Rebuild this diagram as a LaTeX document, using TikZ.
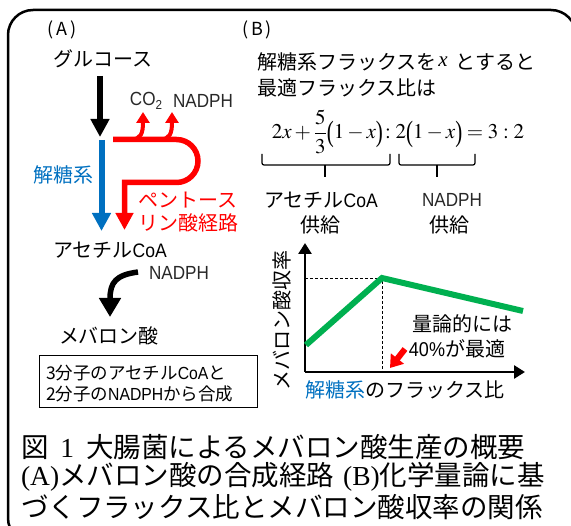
\documentclass[tikz,border=0pt]{standalone}
\usepackage{amsmath}
\usepackage{mathptmx}
\usepackage[no-math]{fontspec}
\setmainfont{Noto Sans CJK JP}
\newfontfamily\tms{Liberation Serif}
\newfontfamily\nar[FakeStretch=0.9]{Liberation Sans}
\usetikzlibrary{arrows.meta}
\definecolor{ablue}{RGB}{0,112,192}
\definecolor{agreen}{RGB}{0,176,80}
\definecolor{dgray}{RGB}{40,40,40}
\newcommand\setfs[1]{\fontsize{#1}{#1}\selectfont}
\newcommand\tallp[1]{\mathord{\raisebox{-3pt}{\scalebox{1}[1.4]{\tms #1}}}}
\begin{document}
\begin{tikzpicture}[x=1pt,y=-1pt,
  txt/.style={inner sep=0pt, outer sep=0pt},
  big/.style={txt, font=\setfs{20}},
  captxt/.style={txt, anchor=west, font=\setfs{27.5}},
  brk/.style={line width=1.2pt, rounded corners=2pt},
  fatarrow/.style={line width=6pt, -{Triangle[length=18pt,width=18pt]}}]
\useasboundingbox (0,0) rectangle (571,526);
\clip (0,0) rectangle (571,526);
% frame
\draw[line width=2.5pt, rounded corners=25pt] (8,10) rectangle (576,543);
% panel headers
\node[txt, font=\setfs{18}] (hA) at (62,30) {(\,A\,)};
\node[txt, font=\setfs{18}] (hB) at (257,30) {(\,B\,)};
% panel A
\node[big] (glu) at (103,59) {グルコース};
\coordinate (g1) at (100,76);
\coordinate (g2) at (100,137);
\draw[fatarrow] (g1) -- (g2);
\coordinate (b1) at (101.5,140);
\coordinate (b2) at (101.5,231);
\draw[fatarrow, ablue] (b1) -- (b2);
\node[big, ablue] (glyc) at (64,175) {解糖系};
% pentose phosphate path
\coordinate (r0) at (113,139.5);
\coordinate (r1) at (176.5,139.5);
\coordinate (r2) at (124.5,182.5);
\coordinate (r3) at (124.5,230);
\draw[red, line width=5.5pt, -{Triangle[length=17pt,width=17pt]}]
  (r0) -- (r1) arc[start angle=-90, end angle=90, radius=21.5] -- (r2) -- (r3);
\coordinate (s1) at (131,139.5);
\coordinate (t1) at (143,112);
\coordinate (s2) at (160,139.5);
\coordinate (t2) at (172,112);
\draw[red, line width=4pt, -{Triangle[length=11pt,width=13pt]}]
  (s1) .. controls (141,139.5) and (143,133) .. (t1);
\draw[red, line width=4pt, -{Triangle[length=11pt,width=13pt]}]
  (s2) .. controls (170,139.5) and (172,133) .. (t2);
\node[txt, dgray, font=\nar\setfs{19}] (co2) at (146,101) {CO\raisebox{-4pt}{\setfs{13}2}};
\node[txt, dgray, font=\nar\setfs{19}] (nadT) at (203,101) {NADPH};
\node[big, red] (ppp1) at (188,200) {ペントース};
\node[big, red] (ppp2) at (188,223) {リン酸経路};
\node[big] (acA) at (110,250) {アセチル{\nar\setfs{19.5}CoA}};
\node[txt, dgray, font=\nar\setfs{19}] (nadA) at (179,273) {NADPH};
\coordinate (n1) at (138,272);
\coordinate (n2) at (110,317);
\draw[line width=5.5pt, -{Triangle[length=19pt,width=21pt]}]
  (n1) .. controls (116,275) and (110,282) .. (n2);
\node[big] (mev) at (109,336) {メバロン酸};
\draw[line width=1pt] (39,356) rectangle (257,408);
\node[txt, anchor=west, font=\setfs{17.5}] (box1) at (46,373) {3分子のアセチル{\nar CoA}と};
\node[txt, anchor=west, font=\setfs{17.5}] (box2) at (46,394) {2分子の{\nar NADPH}から合成};
% panel B
\node[big, anchor=west] (l1) at (257,62) {解糖系フラックスを\hspace{2pt}\raisebox{3pt}{\tms\itshape\setfs{21}x}\hspace{8pt}とすると};
\node[big, anchor=west] (l2) at (257,88) {最適フラックス比は};
\node[txt, font=\setfs{21}] (eq) at (398,139)
  {\smash{$2x+\dfrac{5}{3}\tallp{(}1-x\tallp{)}\!:2\tallp{(}1-x\tallp{)}=3:2$}};
\draw[brk] (262,154) -- (262,165) -- (390,165) -- (390,154);
\draw[line width=1.2pt] (325,165) -- (325,177);
\draw[brk] (399,154) -- (399,165) -- (475,165) -- (475,154);
\draw[line width=1.2pt] (437,165) -- (437,177);
\node[big] (acB) at (321,200) {アセチル{\nar\setfs{19.5}CoA}};
\node[big] (sup1) at (320,225) {供給};
\node[txt, dgray, font=\nar\setfs{19}] (nadB) at (452,200) {NADPH};
\node[big] (sup2) at (449,225) {供給};
% graph
\coordinate (o) at (305,372);
\coordinate (ytop) at (305,243);
\coordinate (xend) at (525,372);
\draw[line width=2.7pt, -{Triangle[length=11pt,width=13pt]}] (o) -- (ytop);
\draw[line width=2.7pt, -{Triangle[length=11pt,width=13pt]}] (o) -- (xend);
\coordinate (pk) at (382,278);
\draw[dashed, line width=0.8pt, dash pattern=on 3pt off 2pt] (305,278) -- (pk) -- (382,372);
\draw[agreen, line width=6pt] (306,345) -- (pk) -- (523,311);
\node[big, rotate=90] (ylab) at (282,321) {メバロン酸収率};
\node[big] (xlab) at (405,390) {{\color{ablue}解糖系}のフラックス比};
\node[big] (st1) at (462,324) {量論的には};
\node[big] (st2) at (457,349) {{\nar 40\%}が最適};
\coordinate (ra1) at (405,349);
\coordinate (ra2) at (390,368);
\draw[red, line width=6pt, -{Triangle[length=12pt,width=16pt]}] (ra1) -- (ra2);
% caption
\node[captxt] (c1) at (21,447) {図\hspace{12pt}{\tms 1}\hspace{12pt}大腸菌によるメバロン酸生産の概要};
\node[captxt] (c2) at (21,477) {{\tms (A)}メバロン酸の合成経路\hspace{9pt}{\tms (B)}化学量論に基};
\node[captxt] (c3) at (21,507) {づくフラックス比とメバロン酸収率の関係};
\end{tikzpicture}
\end{document}
